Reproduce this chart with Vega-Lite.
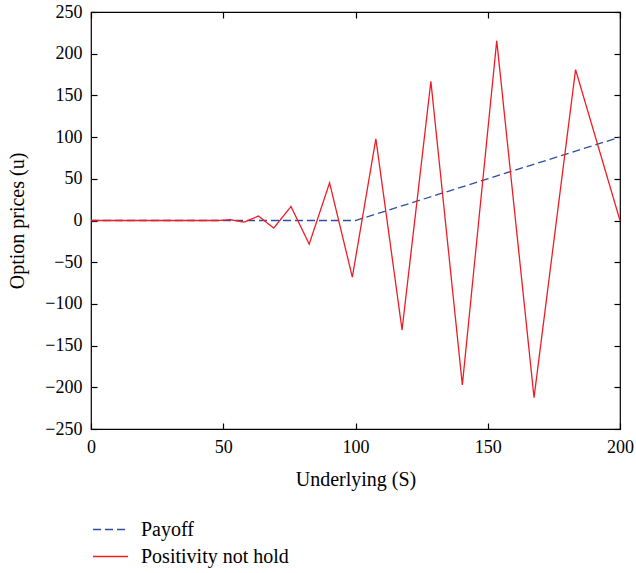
{
  "$schema": "https://vega.github.io/schema/vega-lite/v6.json",
  "autosize": {"type": "none"},
  "padding": {"left": 91, "top": 12, "right": 16, "bottom": 144},
  "width": 529,
  "height": 417,
  "config": {
    "font": "Liberation Serif",
    "view": {"stroke": "#000", "strokeWidth": 1.2},
    "axis": {
      "labelFont": "Liberation Serif",
      "titleFont": "Liberation Serif",
      "labelFontSize": 18,
      "titleFontSize": 20,
      "titleFontWeight": "normal",
      "labelColor": "#000",
      "titleColor": "#000",
      "tickColor": "#000",
      "domain": false,
      "grid": false,
      "tickSize": 6,
      "offset": -6,
      "tickWidth": 1.2
    },
    "legend": {
      "labelFont": "Liberation Serif",
      "labelFontSize": 20,
      "labelColor": "#000"
    }
  },
  "data": {
    "values": [
      {"S": 0, "u": 0, "series": "Payoff"},
      {"S": 100, "u": 0, "series": "Payoff"},
      {"S": 200, "u": 100, "series": "Payoff"},
      {"S": 0, "u": 0, "series": "Positivity not hold"},
      {"S": 10, "u": 0, "series": "Positivity not hold"},
      {"S": 20, "u": 0, "series": "Positivity not hold"},
      {"S": 30, "u": 0, "series": "Positivity not hold"},
      {"S": 40, "u": 0, "series": "Positivity not hold"},
      {"S": 44.1, "u": 0, "series": "Positivity not hold"},
      {"S": 48.2, "u": 0, "series": "Positivity not hold"},
      {"S": 52.6, "u": 1, "series": "Positivity not hold"},
      {"S": 57.9, "u": -2, "series": "Positivity not hold"},
      {"S": 63.3, "u": 5.3, "series": "Positivity not hold"},
      {"S": 69.1, "u": -9.1, "series": "Positivity not hold"},
      {"S": 75.6, "u": 16.8, "series": "Positivity not hold"},
      {"S": 82.5, "u": -28.3, "series": "Positivity not hold"},
      {"S": 90.2, "u": 45.2, "series": "Positivity not hold"},
      {"S": 98.8, "u": -67.9, "series": "Positivity not hold"},
      {"S": 107.7, "u": 98, "series": "Positivity not hold"},
      {"S": 117.6, "u": -131.2, "series": "Positivity not hold"},
      {"S": 128.5, "u": 166.8, "series": "Positivity not hold"},
      {"S": 140.4, "u": -197.1, "series": "Positivity not hold"},
      {"S": 153.4, "u": 215.6, "series": "Positivity not hold"},
      {"S": 167.5, "u": -212.3, "series": "Positivity not hold"},
      {"S": 183.2, "u": 180.9, "series": "Positivity not hold"},
      {"S": 200, "u": 0, "series": "Positivity not hold"}
    ]
  },
  "layer": [
    {
      "mark": {"type": "line", "strokeWidth": 1.3},
      "encoding": {
        "x": {"field": "S", "type": "quantitative", "scale": {"domain": [0, 200], "nice": false},
              "axis": {"values": [0, 50, 100, 150, 200], "title": "Underlying (S)", "labelPadding": 9, "titlePadding": 13, "labelFlush": false}},
        "y": {"field": "u", "type": "quantitative", "scale": {"domain": [-250, 250], "nice": false},
              "axis": {"values": [-250, -200, -150, -100, -50, 0, 50, 100, 150, 200, 250], "title": "Option prices (u)", "labelPadding": 9, "titlePadding": 17, "labelFlush": false}},
        "color": {"field": "series", "type": "nominal",
                  "scale": {"domain": ["Payoff", "Positivity not hold"], "range": ["#2c4ea3", "#ee1d24"]},
                  "legend": {"title": null, "orient": "none", "legendX": 1, "legendY": 504, "symbolType": "stroke", "symbolSize": 1225, "symbolStrokeWidth": 1.4, "labelOffset": 12, "rowPadding": 0, "clipHeight": 27, "padding": 0}},
        "strokeDash": {"field": "series", "type": "nominal",
                  "scale": {"domain": ["Payoff", "Positivity not hold"], "range": [[8, 4], [1, 0]]},
                  "legend": {"title": null, "orient": "none", "legendX": 1, "legendY": 504, "symbolType": "stroke", "symbolSize": 1225, "symbolStrokeWidth": 1.4, "labelOffset": 12, "rowPadding": 0, "clipHeight": 27, "padding": 0}}
      }
    },
    {
      "mark": {"type": "line", "opacity": 0},
      "encoding": {
        "x": {"field": "S", "type": "quantitative", "axis": {"orient": "top", "values": [0, 50, 100, 150, 200], "labels": false, "title": null}},
        "y": {"field": "u", "type": "quantitative", "axis": {"orient": "right", "values": [-250, -200, -150, -100, -50, 0, 50, 100, 150, 200, 250], "labels": false, "title": null}},
        "detail": {"field": "series"}
      }
    }
  ],
  "resolve": {"axis": {"x": "independent", "y": "independent"}}
}
